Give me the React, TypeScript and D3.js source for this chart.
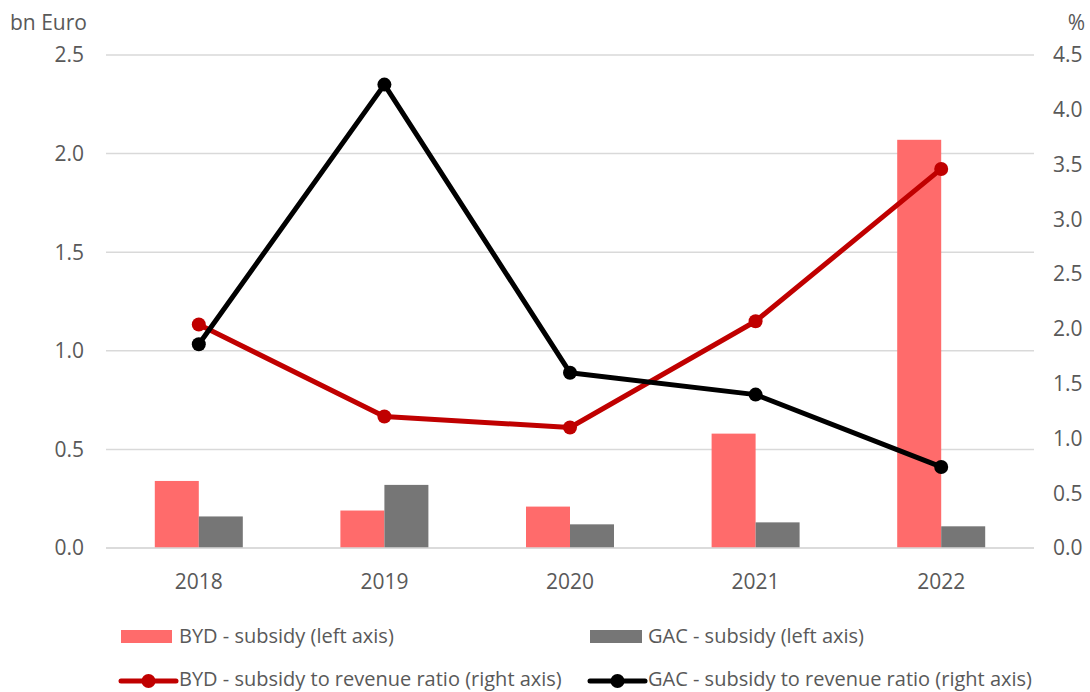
import React, { useEffect, useRef } from 'react';
import * as d3 from 'd3';

const years = ['2018', '2019', '2020', '2021', '2022'];
const bydSubsidy = [0.34, 0.19, 0.21, 0.58, 2.07];
const gacSubsidy = [0.16, 0.32, 0.12, 0.13, 0.11];
const bydRatio = [2.04, 1.2, 1.1, 2.07, 3.46];
const gacRatio = [1.86, 4.23, 1.6, 1.4, 0.74];
const leftTicks = [0, 0.5, 1.0, 1.5, 2.0, 2.5];
const rightTicks = [0, 0.5, 1.0, 1.5, 2.0, 2.5, 3.0, 3.5, 4.0, 4.5];

const W = 1090;
const H = 692;
const FONT = '"Open Sans", "Liberation Sans", sans-serif';
const TEXT = '#595959';

export default function App() {
  const svgRef = useRef<SVGSVGElement | null>(null);

  useEffect(() => {
    if (!svgRef.current) return;
    const svg = d3.select(svgRef.current);
    svg.selectAll('*').remove();

    const x0 = 106;
    const x1 = 1034;
    const yTop = 55;
    const yBot = 548;

    const x = d3.scaleBand<string>().domain(years).range([x0, x1]);
    const yL = d3.scaleLinear().domain([0, 2.5]).range([yBot, yTop]);
    const yR = d3.scaleLinear().domain([0, 4.5]).range([yBot, yTop]);
    const barW = 44;

    // gridlines
    svg.append('g')
      .selectAll('line')
      .data(leftTicks)
      .join('line')
      .attr('x1', x0)
      .attr('x2', x1)
      .attr('y1', d => yL(d))
      .attr('y2', d => yL(d))
      .attr('stroke', '#d9d9d9')
      .attr('stroke-width', 1.5);

    // bars
    const cx = (d: string) => (x(d) || 0) + x.bandwidth() / 2;
    svg.append('g')
      .selectAll('rect')
      .data(years)
      .join('rect')
      .attr('x', d => cx(d) - barW)
      .attr('y', (d, i) => yL(bydSubsidy[i]))
      .attr('width', barW)
      .attr('height', (d, i) => yBot - yL(bydSubsidy[i]))
      .attr('fill', '#ff6b6b');
    svg.append('g')
      .selectAll('rect')
      .data(years)
      .join('rect')
      .attr('x', d => cx(d))
      .attr('y', (d, i) => yL(gacSubsidy[i]))
      .attr('width', barW)
      .attr('height', (d, i) => yBot - yL(gacSubsidy[i]))
      .attr('fill', '#767676');

    // axis baseline redraw
    svg.append('line')
      .attr('x1', x0).attr('x2', x1)
      .attr('y1', yBot).attr('y2', yBot)
      .attr('stroke', '#d9d9d9').attr('stroke-width', 1.5);

    // lines
    const drawLine = (vals: number[], color: string) => {
      const line = d3.line<number>()
        .x((d, i) => cx(years[i]))
        .y(d => yR(d));
      svg.append('path')
        .datum(vals)
        .attr('d', line)
        .attr('fill', 'none')
        .attr('stroke', color)
        .attr('stroke-width', 5)
        .attr('stroke-linejoin', 'round');
      svg.append('g')
        .selectAll('circle')
        .data(vals)
        .join('circle')
        .attr('cx', (d, i) => cx(years[i]))
        .attr('cy', d => yR(d))
        .attr('r', 7)
        .attr('fill', color);
    };
    drawLine(bydRatio, '#c00000');
    drawLine(gacRatio, '#000000');

    const axisText = svg.append('g').attr('font-size', 21);

    // left ticks
    axisText.append('g')
      .selectAll('text')
      .data(leftTicks)
      .join('text')
      .attr('x', 84)
      .attr('y', d => yL(d))
      .attr('dy', '0.35em')
      .attr('text-anchor', 'end')
      .text(d => d.toFixed(1));

    // right ticks
    axisText.append('g')
      .selectAll('text')
      .data(rightTicks)
      .join('text')
      .attr('x', 1053)
      .attr('y', d => yR(d))
      .attr('dy', '0.35em')
      .text(d => d.toFixed(1));

    // x labels
    axisText.append('g')
      .selectAll('text')
      .data(years)
      .join('text')
      .attr('x', d => cx(d))
      .attr('y', 589)
      .attr('text-anchor', 'middle')
      .text(d => d);

    axisText.append('text').attr('x', 10).attr('y', 30).text('bn Euro');
    axisText.append('text').attr('x', 1085).attr('y', 30).attr('text-anchor', 'end').text('%');

    // legend
    const leg = svg.append('g').attr('font-size', 20);
    leg.append('rect').attr('x', 121).attr('y', 630).attr('width', 51).attr('height', 13).attr('fill', '#ff6b6b');
    leg.append('text').attr('x', 179).attr('y', 643).text('BYD - subsidy (left axis)');
    leg.append('rect').attr('x', 590).attr('y', 630).attr('width', 52).attr('height', 13).attr('fill', '#767676');
    leg.append('text').attr('x', 648).attr('y', 643).text('GAC - subsidy (left axis)');

    const lineLeg = (xa: number, xb: number, color: string, label: string) => {
      leg.append('line').attr('x1', xa).attr('x2', xb).attr('y1', 681).attr('y2', 681)
        .attr('stroke', color).attr('stroke-width', 5).attr('stroke-linecap', 'round');
      leg.append('circle').attr('cx', (xa + xb) / 2).attr('cy', 681).attr('r', 7).attr('fill', color);
      leg.append('text').attr('x', xb + 3).attr('y', 686).text(label);
    };
    lineLeg(121, 176, '#c00000', 'BYD - subsidy to revenue ratio (right axis)');
    lineLeg(590, 645, '#000000', 'GAC - subsidy to revenue ratio (right axis)');

    svg.selectAll('text')
      .attr('font-family', FONT)
      .attr('fill', TEXT);
  }, []);

  return (
    <svg
      ref={svgRef}
      width={W}
      height={H}
      style={{ position: 'absolute', left: 0, top: 0, background: '#fff' }}
    />
  );
}
